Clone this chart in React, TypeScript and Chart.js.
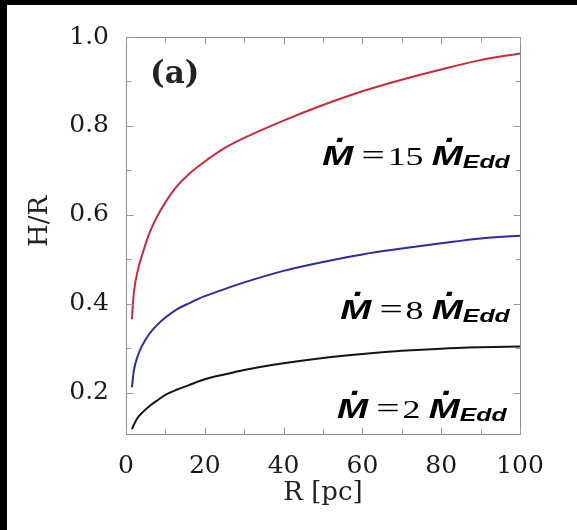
import React, { useEffect, useRef } from "react";
import { Chart, registerables } from "chart.js";

Chart.register(...registerables);

// ---- data ----
const radius = [1.5, 2, 3, 4, 6, 8, 10, 13, 16, 20, 25, 30, 40, 50, 60, 70, 80, 90, 100];
const hr15 = [0.365, 0.425, 0.475, 0.507, 0.56, 0.598, 0.628, 0.665, 0.692, 0.72, 0.75, 0.773, 0.812, 0.847, 0.878, 0.904, 0.927, 0.948, 0.963];
const hr8 = [0.212, 0.25, 0.283, 0.304, 0.333, 0.353, 0.369, 0.388, 0.401, 0.417, 0.433, 0.448, 0.474, 0.494, 0.511, 0.524, 0.536, 0.547, 0.553];
const hr2 = [0.118, 0.128, 0.144, 0.154, 0.17, 0.183, 0.195, 0.207, 0.217, 0.23, 0.241, 0.251, 0.266, 0.278, 0.287, 0.294, 0.299, 0.302, 0.304];

const xTickLabels = [0, 20, 40, 60, 80, 100];
const yTickLabels = [0.2, 0.4, 0.6, 0.8, 1.0];
const xTickMarks = [0, 10, 20, 30, 40, 50, 60, 70, 80, 90, 100];
const yTickMarks = [0.2, 0.3, 0.4, 0.5, 0.6, 0.7, 0.8, 0.9, 1.0];

const xTitle = "R [pc]";
const yTitle = "H/R";
const panelLabel = "(a)";
const rateCoefs = ["15", "8", "2"];

// annotation anchors (data coordinates): right end x, baseline y
const rateAnchors = [
  { r: 97.4, h: 0.712 },
  { r: 97.4, h: 0.365 },
  { r: 96.6, h: 0.144 },
];
const panelAnchor = { r: 6.1, h: 0.896 };
const yTitleAnchor = 0.585;

const serif = "'DejaVu Serif', serif";
const mFont = "bold italic 27px 'Liberation Sans', Arial, sans-serif";
const eqFont = "30px 'Liberation Serif', 'Times New Roman', serif";
const numFont = "26px 'Liberation Serif', 'Times New Roman', serif";
const subFont = "bold italic 18px 'Liberation Sans', Arial, sans-serif";
const stretch = 1.38;

type Part = { t: string; f: string; dy: number; gap: number; dot?: boolean; w?: number };

function drawRate(ctx: CanvasRenderingContext2D, xRight: number, yBase: number, coef: string) {
  const parts: Part[] = [
    { t: "M", f: mFont, dy: 0, gap: 0, dot: true },
    { t: "=", f: eqFont, dy: 0, gap: 6 },
    { t: coef, f: numFont, dy: 0, gap: 2 },
    { t: "M", f: mFont, dy: 0, gap: 6, dot: true },
    { t: "Edd", f: subFont, dy: 3, gap: 0 },
  ];
  let w = 0;
  for (const p of parts) {
    ctx.font = p.f;
    p.w = ctx.measureText(p.t).width;
    w += p.w + p.gap;
  }
  ctx.save();
  ctx.translate(xRight - w * stretch, yBase);
  ctx.scale(stretch, 1);
  ctx.fillStyle = "#000";
  ctx.textBaseline = "alphabetic";
  let cx = 0;
  for (const p of parts) {
    cx += p.gap;
    ctx.font = p.f;
    ctx.textAlign = "left";
    ctx.fillText(p.t, cx, p.dy);
    if (p.dot) {
      ctx.textAlign = "center";
      ctx.fillText(".", cx + (p.w as number) * 0.6, p.dy - 23);
    }
    cx += p.w as number;
  }
  ctx.restore();
}

const overlay = {
  id: "overlay",
  afterDatasetsDraw(chart: any) {
    const { ctx, chartArea: a, scales } = chart;
    const xs = scales.x;
    const ys = scales.y;
    ctx.save();
    // frame
    ctx.strokeStyle = "#8c8c8c";
    ctx.lineWidth = 1;
    const L = Math.round(a.left) + 0.5;
    const T = Math.round(a.top) + 0.5;
    const R = Math.round(a.right) + 0.5;
    const B = Math.round(a.bottom) + 0.5;
    ctx.strokeRect(L, T, R - L, B - T);
    // inward tick marks on all sides
    ctx.strokeStyle = "#9a9a9a";
    ctx.beginPath();
    for (const v of xTickMarks) {
      const px = Math.round(xs.getPixelForValue(v)) + 0.5;
      const len = xTickLabels.includes(v) ? 7 : 5;
      ctx.moveTo(px, B);
      ctx.lineTo(px, B - len);
      ctx.moveTo(px, T);
      ctx.lineTo(px, T + len);
    }
    for (const v of yTickMarks) {
      const py = Math.round(ys.getPixelForValue(v)) + 0.5;
      const major = yTickLabels.some((t) => Math.abs(t - v) < 1e-6);
      const len = major ? 7 : 5;
      ctx.moveTo(L, py);
      ctx.lineTo(L + len, py);
      ctx.moveTo(R, py);
      ctx.lineTo(R - len, py);
    }
    ctx.stroke();

    // panel label
    ctx.fillStyle = "#222";
    ctx.font = "bold 31px " + serif;
    ctx.textAlign = "left";
    ctx.textBaseline = "alphabetic";
    ctx.fillText(panelLabel, xs.getPixelForValue(panelAnchor.r), ys.getPixelForValue(panelAnchor.h));

    // rate labels
    rateCoefs.forEach((c, i) => {
      drawRate(ctx, xs.getPixelForValue(rateAnchors[i].r), ys.getPixelForValue(rateAnchors[i].h), c);
    });

    // y title
    ctx.save();
    ctx.translate(a.left - 86, ys.getPixelForValue(yTitleAnchor));
    ctx.rotate(-Math.PI / 2);
    ctx.font = "26px " + serif;
    ctx.fillStyle = "#222";
    ctx.textAlign = "center";
    ctx.textBaseline = "middle";
    ctx.fillText(yTitle, 0, 0);
    ctx.restore();

    ctx.restore();
  },
};

export default function App() {
  const ref = useRef<HTMLCanvasElement | null>(null);
  useEffect(() => {
    if (!ref.current) return;
    const mk = (vals: number[]) => radius.map((r, i) => ({ x: r, y: vals[i] }));
    const chart = new Chart(ref.current, {
      type: "line",
      data: {
        datasets: [
          { data: mk(hr15), borderColor: "#c92a3c", borderWidth: 2, pointRadius: 0, cubicInterpolationMode: "monotone" },
          { data: mk(hr8), borderColor: "#2c2c9e", borderWidth: 2, pointRadius: 0, cubicInterpolationMode: "monotone" },
          { data: mk(hr2), borderColor: "#141414", borderWidth: 2, pointRadius: 0, cubicInterpolationMode: "monotone" },
        ],
      },
      options: {
        responsive: false,
        animation: false,
        devicePixelRatio: 1,
        layout: { padding: { top: 30, right: 57, left: 0, bottom: 0 } },
        plugins: { legend: { display: false }, tooltip: { enabled: false } },
        scales: {
          x: {
            type: "linear",
            min: 0,
            max: 100,
            grid: { display: false, drawTicks: false },
            border: { display: false },
            ticks: { font: { family: serif, size: 25 }, color: "#1a1a1a", padding: 17, maxRotation: 0, autoSkip: false },
            afterBuildTicks: (axis: any) => {
              axis.ticks = xTickLabels.map((v) => ({ value: v }));
            },
            title: { display: true, text: xTitle, font: { family: serif, size: 26 }, color: "#222", padding: { top: 0, bottom: 21 } },
            afterFit: (axis: any) => {
              axis.height = 96;
            },
          },
          y: {
            type: "linear",
            min: 0.107,
            max: 1.0,
            grid: { display: false, drawTicks: false },
            border: { display: false },
            ticks: {
              font: { family: serif, size: 25 },
              color: "#1a1a1a",
              padding: 17,
              callback: (v: any) => Number(v).toFixed(1),
            },
            afterBuildTicks: (axis: any) => {
              axis.ticks = yTickLabels.map((v) => ({ value: v }));
            },
            afterFit: (axis: any) => {
              axis.width = 119;
            },
          },
        },
      },
      plugins: [overlay],
    } as any);
    return () => chart.destroy();
  }, []);

  return (
    <div style={{ position: "absolute", left: 0, top: 0, width: 577, height: 530, background: "#000", overflow: "hidden" }}>
      <div style={{ position: "absolute", left: 7, top: 5, width: 570, height: 525, background: "#fff" }}>
        <canvas ref={ref} width={570} height={525} style={{ display: "block", width: 570, height: 525 }} />
      </div>
    </div>
  );
}
